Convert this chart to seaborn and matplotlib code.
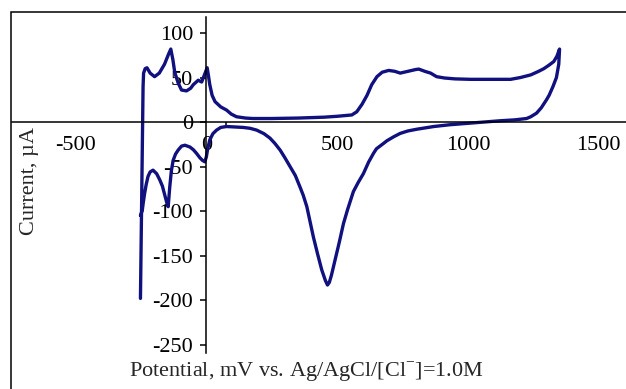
#!/usr/bin/env python3
import pandas as pd
import seaborn as sns
import matplotlib as mpl
import matplotlib.pyplot as plt
from matplotlib.patches import Rectangle

sns.set_theme(style="ticks")
mpl.rcParams["font.family"] = ["Liberation Serif", "DejaVu Serif"]
mpl.rcParams["mathtext.fontset"] = "custom"
mpl.rcParams["mathtext.rm"] = "Liberation Serif"
mpl.rcParams["axes.unicode_minus"] = False

# anodic sweep (left vertex -> right vertex), then cathodic sweep back
potential = [
    -252, -250, -248, -246, -244, -242, -240, -234, -227, -215, -198, -180,
    -160, -145, -136, -128, -121, -108, -95, -76, -60, -50, -31, -18, -5, 3,
    8, 13, 22, 33, 55, 77, 95, 115, 150, 178, 250, 350, 450, 500, 556, 575,
    595, 614, 632, 652, 672, 697, 720, 741, 770, 800, 812, 835, 857, 880, 910,
    950, 1010, 1100, 1163, 1200, 1240, 1270, 1290, 1310, 1328, 1340, 1350,
    1347, 1338, 1325, 1310, 1300, 1280, 1262, 1240, 1224, 1180, 1124, 1060,
    996, 930, 869, 805, 770, 741, 716, 690, 677, 650, 639, 620, 600, 580, 562,
    540, 524, 508, 492, 478, 470, 463, 455, 441, 425, 409, 395, 384, 370, 358,
    340, 320, 300, 282, 262, 243, 220, 192, 167, 140, 110, 77, 55, 39, 25, 13,
    5, 0, -6, -15, -25, -38, -50, -63, -82, -95, -108, -118, -127, -134, -140,
    -144, -146, -150, -159, -168, -178, -190, -204, -215, -223, -230, -236,
    -241, -245, -252,
]
current = [
    -198, -150, -100, -50, 0, 40, 55, 60, 61, 55, 51, 55,
    65, 76, 82, 70, 56, 44, 36, 35, 38, 42, 47, 45, 55, 61,
    52, 42, 30, 23, 17, 13.5, 9, 6, 4.5, 4, 4, 4.5, 5.5, 6.5, 8, 11.6,
    20, 30, 42, 51, 56, 58, 57, 55, 57, 59, 59.5, 57, 55, 51, 49.5,
    48.5, 48, 48, 48, 50, 53, 57, 60, 64, 68, 74, 82,
    65, 50, 40, 30, 25, 16, 10, 6, 4, 2.5, 1.5, 0,
    -1.5, -3, -5, -8, -10, -12.7, -16.5, -21, -24, -30, -35, -45, -58, -68, -78,
    -98, -114, -135, -155, -172, -180, -183, -178, -166, -148, -129, -110, -95, -82, -73,
    -60, -50, -40, -31.5, -24, -18, -13, -9, -7, -6, -5.5, -5, -6, -9, -13, -20,
    -30, -39, -44.6, -43, -40, -35, -31, -28, -26, -27, -31.5, -36, -43, -55, -73,
    -88, -95, -92, -82, -72, -65, -58, -54, -56, -61, -70, -80,
    -90, -99, -105,
]

x_ticks = [-500, 0, 500, 1000, 1500]
y_ticks = [-250, -200, -150, -100, -50, 0, 50, 100]

df = pd.DataFrame({"potential": potential, "current": current})

fig = plt.figure(figsize=(6.26, 3.89), dpi=100)
ax = fig.add_axes([12 / 626, 0.0933, 614 / 626, 0.863])

sns.lineplot(ax=ax, data=df, x="potential", y="current", sort=False,
             estimator=None, color="#10107f", linewidth=2.4)

ax.set_xlim(-743, 1604)
ax.set_ylim(-259, 118)

for side in ["top", "right"]:
    ax.spines[side].set_visible(False)
ax.spines["left"].set_position(("data", 0))
ax.spines["bottom"].set_position(("data", 0))
for side in ["left", "bottom"]:
    ax.spines[side].set_linewidth(1.1)
    ax.spines[side].set_color("black")

ax.set_xticks(x_ticks)
ax.set_xticks([75, 500, 1000], minor=True)
ax.set_yticks(y_ticks)
ax.tick_params(axis="x", which="major", length=0, pad=10, labelsize=16,
               colors="black")
ax.tick_params(axis="x", which="minor", direction="out", length=4, width=1.1,
               color="black")
ax.tick_params(axis="y", direction="out", length=4.5, width=1.1, pad=5,
               labelsize=16, colors="black")

ax.set_xlabel("Potential, mV vs. Ag/AgCl/[Cl$^{-}$]=1.0M", fontsize=16)
ax.xaxis.set_label_coords(0.479, -0.022)
ax.set_ylabel("Current, µA", fontsize=16)
ax.yaxis.set_label_coords(0.044, 0.5115)

# chart area border
fig.patches.append(Rectangle((11 / 626, -0.1), 1.2, 0.969 + 0.1,
                             transform=fig.transFigure, fill=False,
                             edgecolor="black", linewidth=1.1))

plt.savefig("out.png", dpi=100)
